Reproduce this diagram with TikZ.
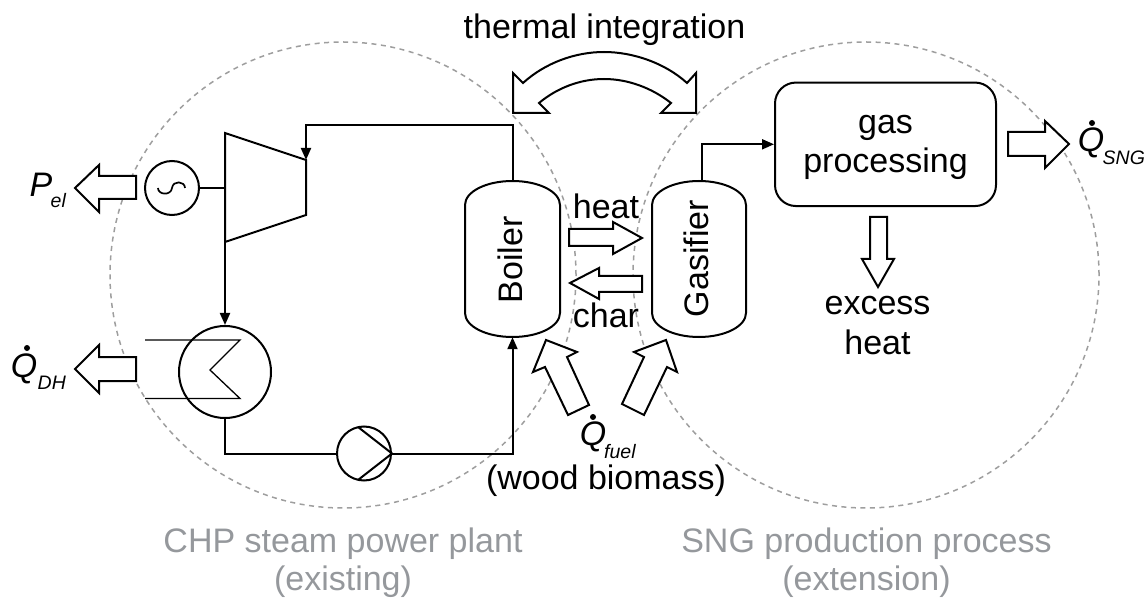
\documentclass[tikz,border=0pt]{standalone}
\usepackage{fontspec}
\setmainfont{Liberation Sans}
\usetikzlibrary{arrows.meta}
\definecolor{zonegray}{gray}{0.62}
\definecolor{zonetext}{HTML}{95989C}
\tikzset{
  x=1pt,y=-1pt,
  line join=miter,
  zone/.style={draw=zonegray,line width=1.5pt,dash pattern=on 5pt off 4.5pt},
  pipe/.style={draw=black,line width=2pt},
  flowtip/.style={pipe,-{Triangle[length=12pt,width=10pt]}},
  thinpipe/.style={draw=black,line width=1.3pt},
  bigarrow/.style={draw=black,line width=2pt,fill=white,miter limit=10},
  unit/.style={circle,draw=black,line width=2pt,inner sep=0pt,fill=none},
  txt/.style={font=\fontsize{34}{36}\selectfont,inner sep=0pt,text=black,anchor=base},
  symtxt/.style={font=\fontsize{34}{36}\selectfont\itshape,inner sep=0pt,text=black,anchor=base},
  subtxt/.style={font=\fontsize{19.5}{24}\selectfont\itshape,inner sep=0pt,text=black,anchor=base west},
  greytxt/.style={font=\fontsize{34}{36}\selectfont,inner sep=0pt,text=zonetext,anchor=base},
  frame/.style={minimum width=95pt,minimum height=156pt,inner sep=0pt},
}
\begin{document}
\begin{tikzpicture}
\useasboundingbox (0,0) rectangle (1145,601);
% zones
\node[circle,zone,minimum size=466pt,inner sep=0pt] (chpzone) at (343,275) {};
\node[circle,zone,minimum size=466pt,inner sep=0pt] (sngzone) at (866,275) {};
% units
\node[unit,minimum size=54pt] (gen) at (172,188) {};
\node[unit,minimum size=92pt] (hx) at (225,372) {};
\node[unit,minimum size=54pt] (pump) at (364,453.5) {};
\node[frame] (boiler) at (512.5,259) {};
\node[frame] (gasifier) at (699,259) {};
\node[rectangle,rounded corners=21pt,draw=black,line width=2pt,minimum width=221pt,minimum height=123.5pt,inner sep=0pt] (gasbox) at (885.5,144.3) {};
% vessels
\draw[pipe] (465,205) .. controls (465,191.7) and (486,181) .. (512.5,181) .. controls (539,181) and (560,191.7) .. (560,205)
  -- (560,313) .. controls (560,326.3) and (539,337) .. (512.5,337) .. controls (486,337) and (465,326.3) .. (465,313) -- cycle;
\draw[pipe] (652,205) .. controls (652,191.7) and (673,181) .. (699,181) .. controls (725,181) and (746,191.7) .. (746,205)
  -- (746,313) .. controls (746,326.3) and (725,337) .. (699,337) .. controls (673,337) and (652,326.3) .. (652,313) -- cycle;
% turbine
\coordinate (tbtop) at (225,133);
\coordinate (tin) at (306,160);
\coordinate (tout) at (306,215);
\coordinate (tbbot) at (225,242);
\coordinate (tbshaft) at (225,188);
\coordinate (steamcorner) at (306,125);
\coordinate (gasout) at (702,181);
\draw[pipe] (tbtop) -- (tin) -- (tout) -- (tbbot) -- cycle;
% connectors
\draw[pipe] (gen.east) -- (tbshaft);
\draw[flowtip] (boiler.north) |- (steamcorner) -- (tin);
\draw[flowtip] (tbbot) -- (hx.north);
\draw[pipe] (hx.south) |- (pump.west);
\draw[flowtip] (pump.east) -| (boiler.south);
\draw[flowtip] (gasout) |- (gasbox.west);
% generator sine
\draw[thinpipe,line width=1.7pt] (158,188) .. controls (158,195) and (171,196) .. (172,188) .. controls (173,180) and (185,181) .. (185,188);
% heat exchanger coil
\draw[thinpipe] (145,340) -- (240,340) -- (210,370) -- (240,398.5) -- (145,398.5);
% pump
\draw[pipe] (358,427) -- (pump.east) -- (358,480);
% block arrows
\draw[bigarrow] (136,176) -- (99,176) -- (99,165) -- (75,188) -- (99,212) -- (99,199) -- (136,199) -- cycle;
\draw[bigarrow] (136,357) -- (99,357) -- (99,345) -- (75,369) -- (99,393) -- (99,381) -- (136,381) -- cycle;
\draw[bigarrow] (569,229) -- (613,229) -- (613,222) -- (642,238) -- (613,254) -- (613,246) -- (569,246) -- cycle;
\draw[bigarrow] (642,276) -- (599,276) -- (599,268) -- (570,283) -- (599,299) -- (599,292) -- (642,292) -- cycle;
\draw[bigarrow] (546,340) -- (577,352) -- (567,357) -- (589,405) -- (568,415) -- (545,367) -- (533,372) -- cycle;
\draw[bigarrow] (666,340) -- (634,352) -- (644,357) -- (622,404) -- (644,415) -- (667,367) -- (677,372) -- cycle;
\draw[bigarrow] (1008,132) -- (1045,132) -- (1045,121) -- (1069,144) -- (1045,168) -- (1045,156) -- (1008,156) -- cycle;
\draw[bigarrow] (870,217) -- (887,217) -- (887,259) -- (894,259) -- (878,287) -- (862,259) -- (870,259) -- cycle;
% thermal integration arrow
\draw[bigarrow] (513,113) -- (513,73) -- (523,83) .. controls (545,63) and (575,52) .. (604,52) .. controls (633,52) and (665,63) .. (687,83)
  -- (696,73) -- (696,113) -- (661,113) -- (671,103) .. controls (652,88) and (628,79) .. (604,79) .. controls (580,79) and (557,88) .. (539,103) -- (549,113) -- cycle;
% texts
\node[txt] (tthermal) at (604.5,39) {thermal integration};
\node[txt,rotate=90] (tboiler) at (522,260) {Boiler};
\node[txt,rotate=90] (tgasifier) at (708,258.5) {Gasifier};
\node[txt] (theat) at (606,219) {heat};
\node[txt] (tchar) at (606,327) {char};
\node[txt] (tgas) at (885.5,134) {gas};
\node[txt] (tproc) at (885.5,173) {processing};
\node[txt] (texcess) at (877.5,315) {excess};
\node[txt] (theat2) at (877.5,355) {heat};
\node[txt] (twood) at (606,489) {(wood biomass)};
\node[symtxt] (tp) at (41,197) {P};
\node[subtxt] (tel) at (50.5,208) {el};
\node[symtxt] (qdh) at (24,377) {Q};
\fill (27,348) circle (3pt);
\node[subtxt] (tdh) at (37.5,389) {DH};
\node[symtxt] (qfuel) at (593,445) {Q};
\fill (593,417) circle (3pt);
\node[subtxt] (tfuel) at (604,458) {fuel};
\node[symtxt] (qsng) at (1091,152) {Q};
\fill (1092,123) circle (3pt);
\node[subtxt] (tsng) at (1102.5,165) {SNG};
\node[greytxt] (tchp) at (343,552) {CHP steam power plant};
\node[greytxt] (texist) at (343,590) {(existing)};
\node[greytxt] (tsngp) at (866.5,552) {SNG production process};
\node[greytxt] (text) at (866.5,590) {(extension)};
\end{tikzpicture}
\end{document}
